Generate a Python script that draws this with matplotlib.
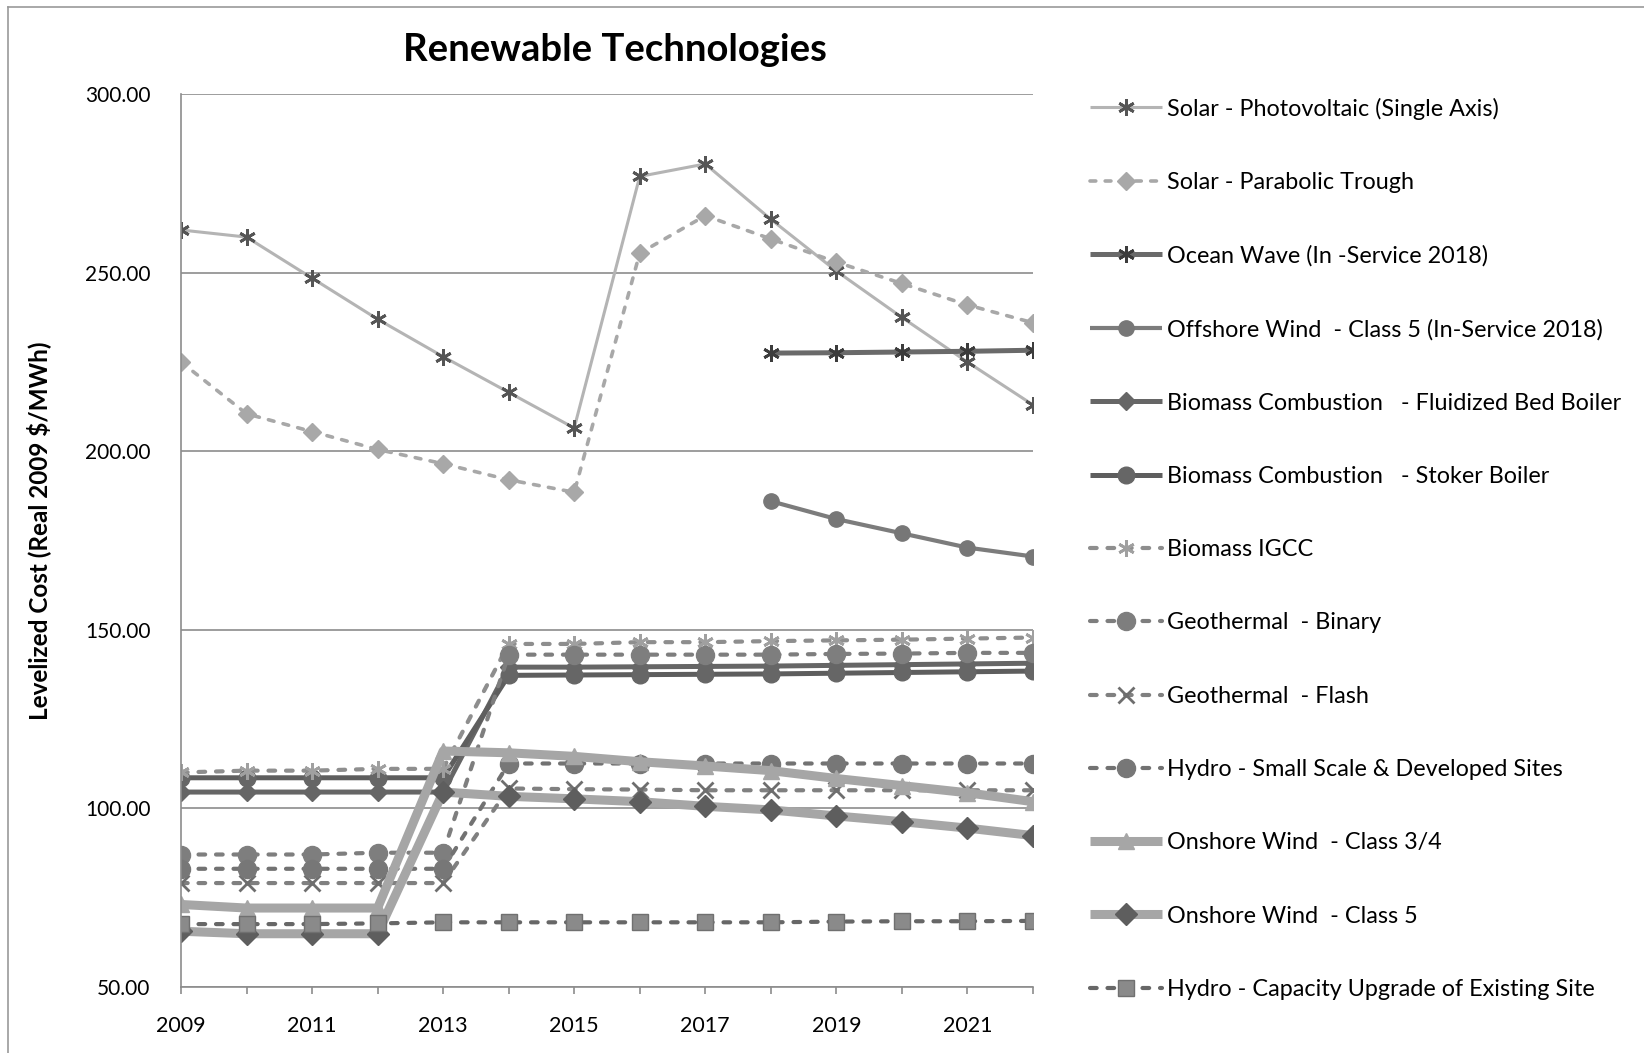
import numpy as np
from matplotlib import pyplot as plt
from matplotlib.lines import Line2D

nan = np.nan

# years on the x axis
years = list(range(2009, 2023))

# levelized cost per technology (Real 2009 $/MWh)
solar_pv = [262, 260, 248.5, 237, 226.5, 216.5, 206.5, 277, 280.5, 265, 250.5, 237.5, 225, 213]
solar_trough = [225, 210.5, 205.5, 200.5, 196.5, 192, 188.5, 255.5, 266, 259.5, 253, 247, 241, 236]
ocean_wave = [nan] * 9 + [227.5, 227.6, 227.8, 228, 228.3]
offshore_wind = [nan] * 9 + [186, 181, 177, 173, 170.5]
biomass_fluidized = [104.5, 104.5, 104.5, 104.5, 104.5, 139.5, 139.5, 139.6, 139.7, 139.8, 140, 140.2, 140.4, 140.6]
biomass_stoker = [108.5, 108.5, 108.5, 108.5, 108.5, 137.2, 137.3, 137.4, 137.5, 137.6, 137.8, 138, 138.2, 138.4]
biomass_igcc = [110, 110.5, 110.5, 111, 111, 146, 146, 146.5, 146.5, 146.8, 147, 147.2, 147.5, 147.8]
geo_binary = [87, 87, 87, 87.5, 87.5, 143, 143, 143, 143, 143, 143.2, 143.3, 143.5, 143.5]
geo_flash = [79, 79, 79, 79, 79, 105.5, 105.3, 105.2, 105, 105, 105, 105, 105, 105]
hydro_small = [83, 83, 83, 83, 83, 112.5, 112.5, 112.5, 112.5, 112.5, 112.5, 112.5, 112.5, 112.5]
onshore_34 = [73, 72, 72, 72, 116, 115.5, 114.5, 113, 111.8, 110.5, 108.3, 106.3, 104.3, 101.8]
onshore_5 = [65.5, 64.8, 64.8, 64.8, 104.5, 103.3, 102.6, 101.8, 100.5, 99.5, 97.8, 96.2, 94.4, 92.3]
hydro_capacity = [67.5, 67.5, 67.5, 67.7, 68, 68, 68, 68, 68, 68, 68.2, 68.3, 68.3, 68.4]

labels = [
    'Solar - Photovoltaic (Single Axis)',
    'Solar - Parabolic Trough',
    'Ocean Wave (In -Service 2018)',
    'Offshore Wind  - Class 5 (In-Service 2018)',
    'Biomass Combustion   - Fluidized Bed Boiler',
    'Biomass Combustion   - Stoker Boiler',
    'Biomass IGCC',
    'Geothermal  - Binary',
    'Geothermal  - Flash',
    'Hydro - Small Scale & Developed Sites',
    'Onshore Wind  - Class 3/4',
    'Onshore Wind  - Class 5',
    'Hydro - Capacity Upgrade of Existing Site',
]

asterisk = (6, 2, 0)
dash = (0, (1.6, 2.6))

# one style per series: line colour, width, dashes, marker, marker face, marker edge, marker size
styles = [
    ('#b4b4b4', 2.2, '-', asterisk, '#555555', '#555555', 12),
    ('#a8a8a8', 2.6, dash, 'D', '#a8a8a8', '#a8a8a8', 9),
    ('#6a6a6a', 3.6, '-', asterisk, '#3c3c3c', '#3c3c3c', 12),
    ('#7c7c7c', 3.0, '-', 'o', '#777777', '#777777', 11),
    ('#666666', 3.6, '-', 'D', '#666666', '#666666', 9),
    ('#5e5e5e', 3.6, '-', 'o', '#666666', '#666666', 12),
    ('#8e8e8e', 3.0, dash, asterisk, '#a0a0a0', '#a0a0a0', 12),
    ('#7e7e7e', 3.0, dash, 'o', '#7e7e7e', '#7e7e7e', 13),
    ('#808080', 3.0, dash, 'x', '#6e6e6e', '#6e6e6e', 11),
    ('#727272', 3.0, dash, 'o', '#777777', '#777777', 13),
    ('#a6a6a6', 6.5, '-', '^', '#a6a6a6', '#a6a6a6', 12),
    ('#a6a6a6', 6.5, '-', 'D', '#5e5e5e', '#5e5e5e', 11),
    ('#676767', 3.0, dash, 's', '#8a8a8a', '#707070', 12),
]

series = [solar_pv, solar_trough, ocean_wave, offshore_wind, biomass_fluidized, biomass_stoker,
          biomass_igcc, geo_binary, geo_flash, hydro_small, onshore_34, onshore_5, hydro_capacity]

plt.rcParams['font.family'] = ['Lato', 'DejaVu Sans']

fig = plt.figure(figsize=(16.44, 10.53), dpi=100, facecolor='white')
ax = fig.add_axes([0.1101, 0.0631, 0.5182, 0.8473])

grid_color = '#8c8c8c'

for values, label, (color, lw, ls, marker, face, edge, ms) in zip(series, labels, styles):
    ax.plot(years, values, color=color, linewidth=lw, linestyle=ls,
            dash_capstyle='round', solid_capstyle='butt',
            marker=marker, markersize=ms, markerfacecolor=face, markeredgecolor=edge,
            markeredgewidth=2 if marker in (asterisk, 'x') else 1, label=label)

# axes styling similar to the old spreadsheet chart
ax.set_xlim(2009, 2022)
ax.set_ylim(50, 300)
ax.set_yticks([50, 100, 150, 200, 250, 300])
ax.set_yticklabels([f'{v:.2f}' for v in [50, 100, 150, 200, 250, 300]])
ax.set_xticks(years)
ax.set_xticklabels([str(y) if (y - 2009) % 2 == 0 else '' for y in years])
ax.yaxis.grid(True, color=grid_color, linewidth=1.2)
ax.set_axisbelow(True)
for side in ['top', 'right']:
    ax.spines[side].set_visible(False)
for side in ['left', 'bottom']:
    ax.spines[side].set_color(grid_color)
    ax.spines[side].set_linewidth(1.2)
ax.tick_params(axis='y', length=0, pad=22, labelsize=15)
ax.tick_params(axis='x', length=5, width=1.2, color=grid_color, direction='out', pad=16, labelsize=15.5)

ax.set_ylabel('Levelized Cost (Real 2009 $/MWh)', fontsize=17.5, fontweight='bold')
ax.yaxis.set_label_coords(-0.153, 0.511)
fig.text(0.374, 0.9525, 'Renewable Technologies', fontsize=27.5, fontweight='bold',
         ha='center', va='center')

# legend on the right, one entry per row
handles, _ = ax.get_legend_handles_labels()
fig.legend(handles, labels, loc='center left', bbox_to_anchor=(0.663, 0.479),
           frameon=False, fontsize=16.8, handlelength=3.1, handletextpad=0.2,
           labelspacing=2.24, borderpad=0, borderaxespad=0, numpoints=1)

# thin frame around the chart (left and top edges visible)
fig.add_artist(Line2D([0.005, 0.005], [0, 0.993], color='#999999', linewidth=1.2))
fig.add_artist(Line2D([0.005, 1], [0.993, 0.993], color='#999999', linewidth=1.2))

plt.savefig('out.png', dpi=100, facecolor='white')
